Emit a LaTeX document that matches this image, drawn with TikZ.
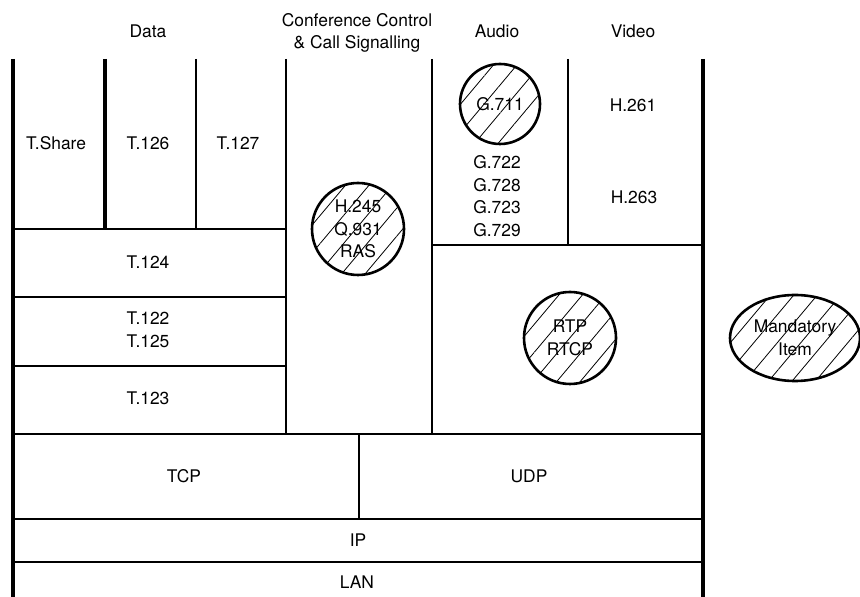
\documentclass[tikz,border=0pt]{standalone}
\usepackage{fontspec}
\setmainfont{TeX Gyre Heros}
\usetikzlibrary{patterns.meta,shapes.geometric}

\tikzset{
  lbl/.style={font=\fontsize{8.7}{11.3}\selectfont, align=center, inner sep=0pt},
  hatched/.style={lbl, draw, line width=1.3pt, inner sep=0pt,
    pattern={Lines[angle=50,distance=9pt,line width=0.4pt]}},
}

\begin{document}
\begin{tikzpicture}[x=0.5pt, y=-0.5pt]
\useasboundingbox (0,0) rectangle (860,597);

\begin{scope}[line width=1.6pt]
\draw (13,59) -- (13,597);
\draw (703,59) -- (703,597);
\draw (105,59) -- (105,229);
\end{scope}

\begin{scope}[line width=1.1pt]
\draw (196,59) -- (196,229);
\draw (286,59) -- (286,434);
\draw (432,59) -- (432,434);
\draw (568,59) -- (568,245);
\draw (13,229) -- (286,229);
\draw (13,297) -- (286,297);
\draw (13,366) -- (286,366);
\draw (432,245) -- (703,245);
\draw (13,434) -- (703,434);
\draw (359,434) -- (359,519);
\draw (13,519) -- (703,519);
\draw (13,562) -- (703,562);
\end{scope}

\node [lbl] (data) at (148,31) {Data};
\node [lbl] (conf) at (357,33) {Conference Control\\\& Call Signalling};
\node [lbl] (audio) at (497,31) {Audio};
\node [lbl] (video) at (633,31) {Video};

\node [lbl] (tshare) at (56,143) {T.Share};
\node [lbl] (t126) at (148,143) {T.126};
\node [lbl] (t127) at (238,143) {T.127};
\node [lbl] (t124) at (148,262) {T.124};
\node [lbl] (t122) at (148,330) {T.122\\T.125};
\node [lbl] (t123) at (148,398) {T.123};

\node [lbl] (h261) at (633,105) {H.261};
\node [lbl] (h263) at (634,197) {H.263};
\node [lbl] (g722) at (497,196) {G.722\\G.728\\G.723\\G.729};

\node [lbl] (tcp) at (184,476) {TCP};
\node [lbl] (udp) at (529,476) {UDP};
\node [lbl] (ip) at (358,540) {IP};
\node [lbl] (lan) at (357,582) {LAN};

\node [hatched, circle, minimum size=40pt] (g711) at (500,104) {G.711};
\node [hatched, circle, minimum size=46pt] (h245) at (358,229) {H.245\\Q.931\\RAS};
\node [hatched, circle, minimum size=46pt] (rtp) at (570,338) {RTP\\RTCP};
\node [hatched, ellipse, minimum width=65pt, minimum height=43pt] (mand) at (795,338) {Mandatory\\Item};

\end{tikzpicture}
\end{document}
